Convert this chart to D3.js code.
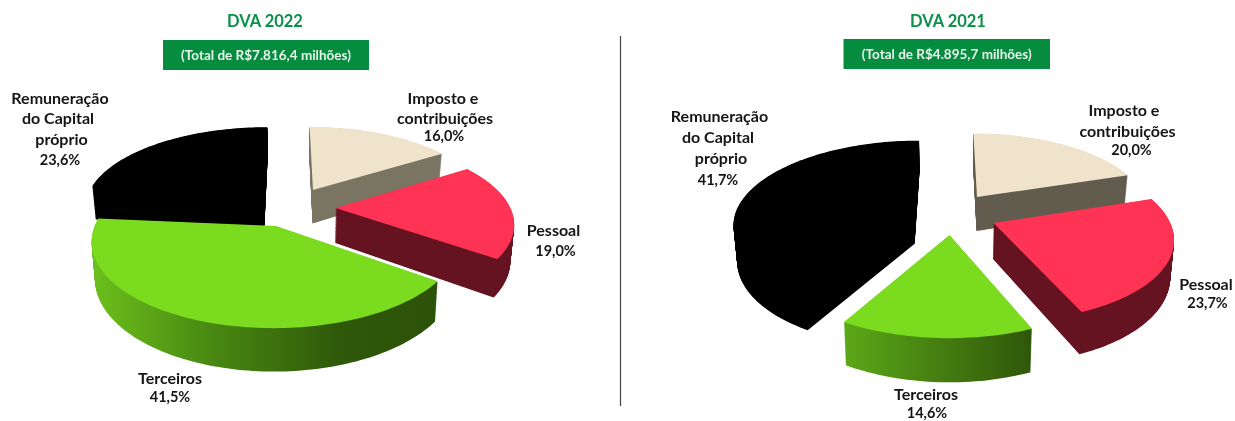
<!DOCTYPE html>
<html lang="pt">
<head>
<meta charset="utf-8">
<script src="https://cdn.jsdelivr.net/npm/d3@7"></script>
<style>
html,body{margin:0;padding:0;background:#fff;}
svg{display:block;filter:blur(.35px);}
text{font-family:Lato,"Open Sans",sans-serif;font-weight:700;}
</style>
</head>
<body>
<svg id="chart" width="1235" height="421"></svg>
<script>
// ---------- data ----------
const categories = ["Imposto e contribuições", "Pessoal", "Terceiros", "Remuneração do Capital próprio"];
const values2022 = [16.0, 19.0, 41.5, 23.6];
const values2021 = [20.0, 23.7, 14.6, 41.7];
const titles = ["DVA 2022", "DVA 2021"];
const totals = ["(Total de R$7.816,4 milhões)", "(Total de R$4.895,7 milhões)"];
const labelLines = [["Imposto e", "contribuições"], ["Pessoal"], ["Terceiros"], ["Remuneração", "do Capital", "próprio"]];

// ---------- styling / layout ----------
const topColors = ["#EFE3CB", "#FF3353", "#7BDB1F", "#000000"];
const layout2022 = {
  cx: 288, kx: .362, b: .000338,
  title: [265, 27], box: [163, 40, 206, 30],
  apex: [[313,190],[335.5,208],[276,226],[264,193]],
  radius: [1, 1, 1, 1.035],
  wall: [["#7A7463"],["#661321"],["#6CC01C","#4A8A12","#2F5809","#2C5208"],["#000"]],
  labels: [
    {xs:[443,445,444], ys:[104,124,141]}, {xs:[553.5,555.5], ys:[236,256]},
    {xs:[170,170], ys:[384,402]}, {xs:[60,58,61.5,60], ys:[104,124,145,165]}
  ]
};
const layout2021 = {
  cx: 950, kx: .355, b: .00033,
  title: [948, 27], box: [843.5, 39, 206.5, 30],
  apex: [[977,197],[993.5,223],[949.5,235],[914,209]],
  radius: [1, 1, 1, 1.03],
  wall: [["#615C4E"],["#661321"],["#5CA818","#2F560A"],["#000"]],
  labels: [
    {xs:[1124,1127.5,1131.5], ys:[116,137,155]}, {xs:[1206,1207.5], ys:[290,308]},
    {xs:[926,927], ys:[400,418]}, {xs:[719.5,718,721,718], ys:[122,143,164,185]}
  ]
};
const horizon = -275, depth = .072, shrink = .983, sweepSteps = 60;

const svg = d3.select("#chart");
const defs = svg.append("defs");
const line = d3.line();

// Perspective pie: plane points project through 1/(y - horizon)
function slicePoint(L, i, theta){
  const [ax, ay] = L.apex[i];
  const r = L.radius[i];
  const q0 = 1/(ay - horizon);
  const X0 = (ax - L.cx) * q0 / L.kx;
  const q = q0 + L.b * r * Math.cos(theta);
  const dist = 1/q;
  return {x: L.cx + L.kx*(X0 + r*Math.sin(theta))*dist, y: horizon + dist, d: dist};
}
const apexPoint = (L, i) => { const [x,y] = L.apex[i]; return {x, y, d: y - horizon}; };
const lowered = (L, p, s) => [p.x + (L.cx - p.x)*(1 - shrink)*s, p.y + depth*p.d*s];

function drawPanel(values, L, idx){
  const pie = d3.pie().sort(null).value(d => d)(values);
  const g = svg.append("g");
  [0, 3, 1, 2].forEach(i => {
    const a = pie[i];
    const n = Math.max(8, Math.ceil((a.endAngle - a.startAngle)*40));
    const arc = d3.range(n + 1).map(k => slicePoint(L, i, a.startAngle + (a.endAngle - a.startAngle)*k/n));
    const face = [apexPoint(L, i)].concat(arc);
    const gid = `wall-${idx}-${i}`;
    const extent = d3.extent(arc, p => p.x);
    const grad = defs.append("linearGradient").attr("id", gid)
      .attr("gradientUnits", "userSpaceOnUse")
      .attr("x1", extent[0]).attr("x2", extent[1]).attr("y1", 0).attr("y2", 0);
    const stops = L.wall[i];
    stops.forEach((c, k) => {
      grad.append("stop").attr("offset", stops.length > 1 ? (k === 2 && stops.length === 4 ? .72 : k/(stops.length - 1)) : 0).attr("stop-color", c);
    });
    // extrusion: sweep the face from its bottom position up to the top
    d3.range(sweepSteps, 0, -1).forEach(k => {
      const s = k/sweepSteps;
      g.append("path").attr("fill", `url(#${gid})`)
        .attr("d", line(face.map(p => lowered(L, p, s))) + "Z");
    });
    // top face
    g.append("path").attr("fill", topColors[i])
      .attr("d", line(face.map(p => [p.x,p.y])) + "Z");
  });

  // titles
  svg.append("text").attr("x", L.title[0]).attr("y", L.title[1]).attr("text-anchor","middle")
    .attr("font-size", 16.5).attr("fill", "#0A9148").text(titles[idx]);
  svg.append("rect").attr("x", L.box[0]).attr("y", L.box[1]).attr("width", L.box[2]).attr("height", L.box[3])
    .attr("fill", "#058C3E");
  svg.append("text").attr("x", L.box[0] + L.box[2]/2).attr("y", L.box[1] + 19.5).attr("text-anchor","middle")
    .attr("font-size", 13.5).attr("fill", "#E8F4EC").text(totals[idx]);

  // labels
  categories.forEach((c, i) => {
    const lines = labelLines[i].concat([values[i].toFixed(1).replace(".", ",") + "%"]);
    lines.forEach((t, k) => {
      const isValue = k === lines.length - 1;
      svg.append("text").attr("x", L.labels[i].xs[k]).attr("y", L.labels[i].ys[k]).attr("text-anchor","middle")
        .attr("font-size", isValue ? 14.5 : 16).attr("fill", "#151515").text(t);
    });
  });
}

drawPanel(values2022, layout2022, 0);
drawPanel(values2021, layout2021, 1);

svg.append("line").attr("x1", 620.5).attr("x2", 620.5).attr("y1", 36).attr("y2", 406)
  .attr("stroke", "#444").attr("stroke-width", 1.2);
</script>
</body>
</html>
